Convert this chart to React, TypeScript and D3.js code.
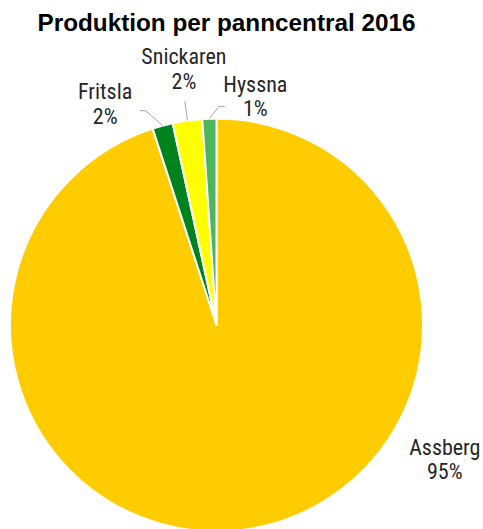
import * as d3 from "d3";

const WIDTH = 483;
const HEIGHT = 529;
const CX = 216.5;
const CY = 325;
const R = 206.5;

const TITLE = "Produktion per panncentral 2016";
const centrals = ["Assberg", "Fritsla", "Snickaren", "Hyssna"];
const production = [95.0, 1.6, 2.3, 1.1];
const colors = ["#FFCC00", "#00821E", "#FFFF00", "#4DB55C"];

// label placement relative to the slice's outer mid point (styling only)
const labelPlace = [
  { dx: 196, dy: -74, lead: null },
  { dx: -57.5, dy: -26.5, lead: [[-23, -15], [-17, -15]] },
  { dx: -3.5, dy: -56.5, lead: [[-2.5, -19.5]] },
  { dx: 46, dy: -27, lead: [[15.5, -12], [9.5, -12]] },
];

const FONT = "'Liberation Sans Narrow', 'Roboto Condensed', Roboto, sans-serif";

type Row = { name: string; value: number; i: number };

export default function App() {
  const data: Row[] = centrals.map((name, i) => ({ name, value: production[i], i }));
  const pie = d3
    .pie<Row>()
    .sort(null)
    .value((d) => d.value)
    .startAngle(0)
    .endAngle(2 * Math.PI);
  const arcs = pie(data);
  const arc = d3.arc<d3.PieArcDatum<Row>>().innerRadius(0).outerRadius(R);
  const total = d3.sum(production);

  return (
    <div style={{ position: "absolute", left: 0, top: 0 }}>
      <svg width={WIDTH} height={HEIGHT} viewBox={`0 0 ${WIDTH} ${HEIGHT}`}>
        <rect width={WIDTH} height={HEIGHT} fill="#fff" />
        <text
          x={226.5}
          y={31}
          textAnchor="middle"
          fontFamily="'Liberation Sans', Arial, sans-serif"
          fontWeight="bold"
          fontSize={24.3}
          fill="#000"
        >
          {TITLE}
        </text>
        <g transform={`translate(${CX},${CY})`}>
          {arcs.map((a) => (
            <path
              key={a.data.name}
              d={arc(a) ?? ""}
              fill={colors[a.data.i]}
              stroke="#fff"
              strokeWidth={2}
              strokeLinejoin="round"
            />
          ))}
          {arcs.map((a) => {
            const mid = (a.startAngle + a.endAngle) / 2;
            const px = R * Math.sin(mid);
            const py = -R * Math.cos(mid);
            const place = labelPlace[a.data.i];
            const lx = px + place.dx;
            const ly = py + place.dy;
            const pct = Math.round((a.data.value / total) * 100);
            const pts = place.lead
              ? [...place.lead.map(([x, y]) => [px + x, py + y]), [px, py]]
              : null;
            return (
              <g key={"l" + a.data.name}>
                {pts && (
                  <polyline
                    points={pts.map((p) => p.join(",")).join(" ")}
                    fill="none"
                    stroke="#a6a6a6"
                    strokeWidth={1}
                  />
                )}
                <text
                  x={lx}
                  y={ly}
                  textAnchor="middle"
                  fontFamily={FONT}
                  fontSize={22}
                  fill="#262626"
                >
                  <tspan x={lx} dy={0}>
                    {a.data.name}
                  </tspan>
                  <tspan x={lx} dy={24.5}>
                    {pct}%
                  </tspan>
                </text>
              </g>
            );
          })}
        </g>
      </svg>
    </div>
  );
}
